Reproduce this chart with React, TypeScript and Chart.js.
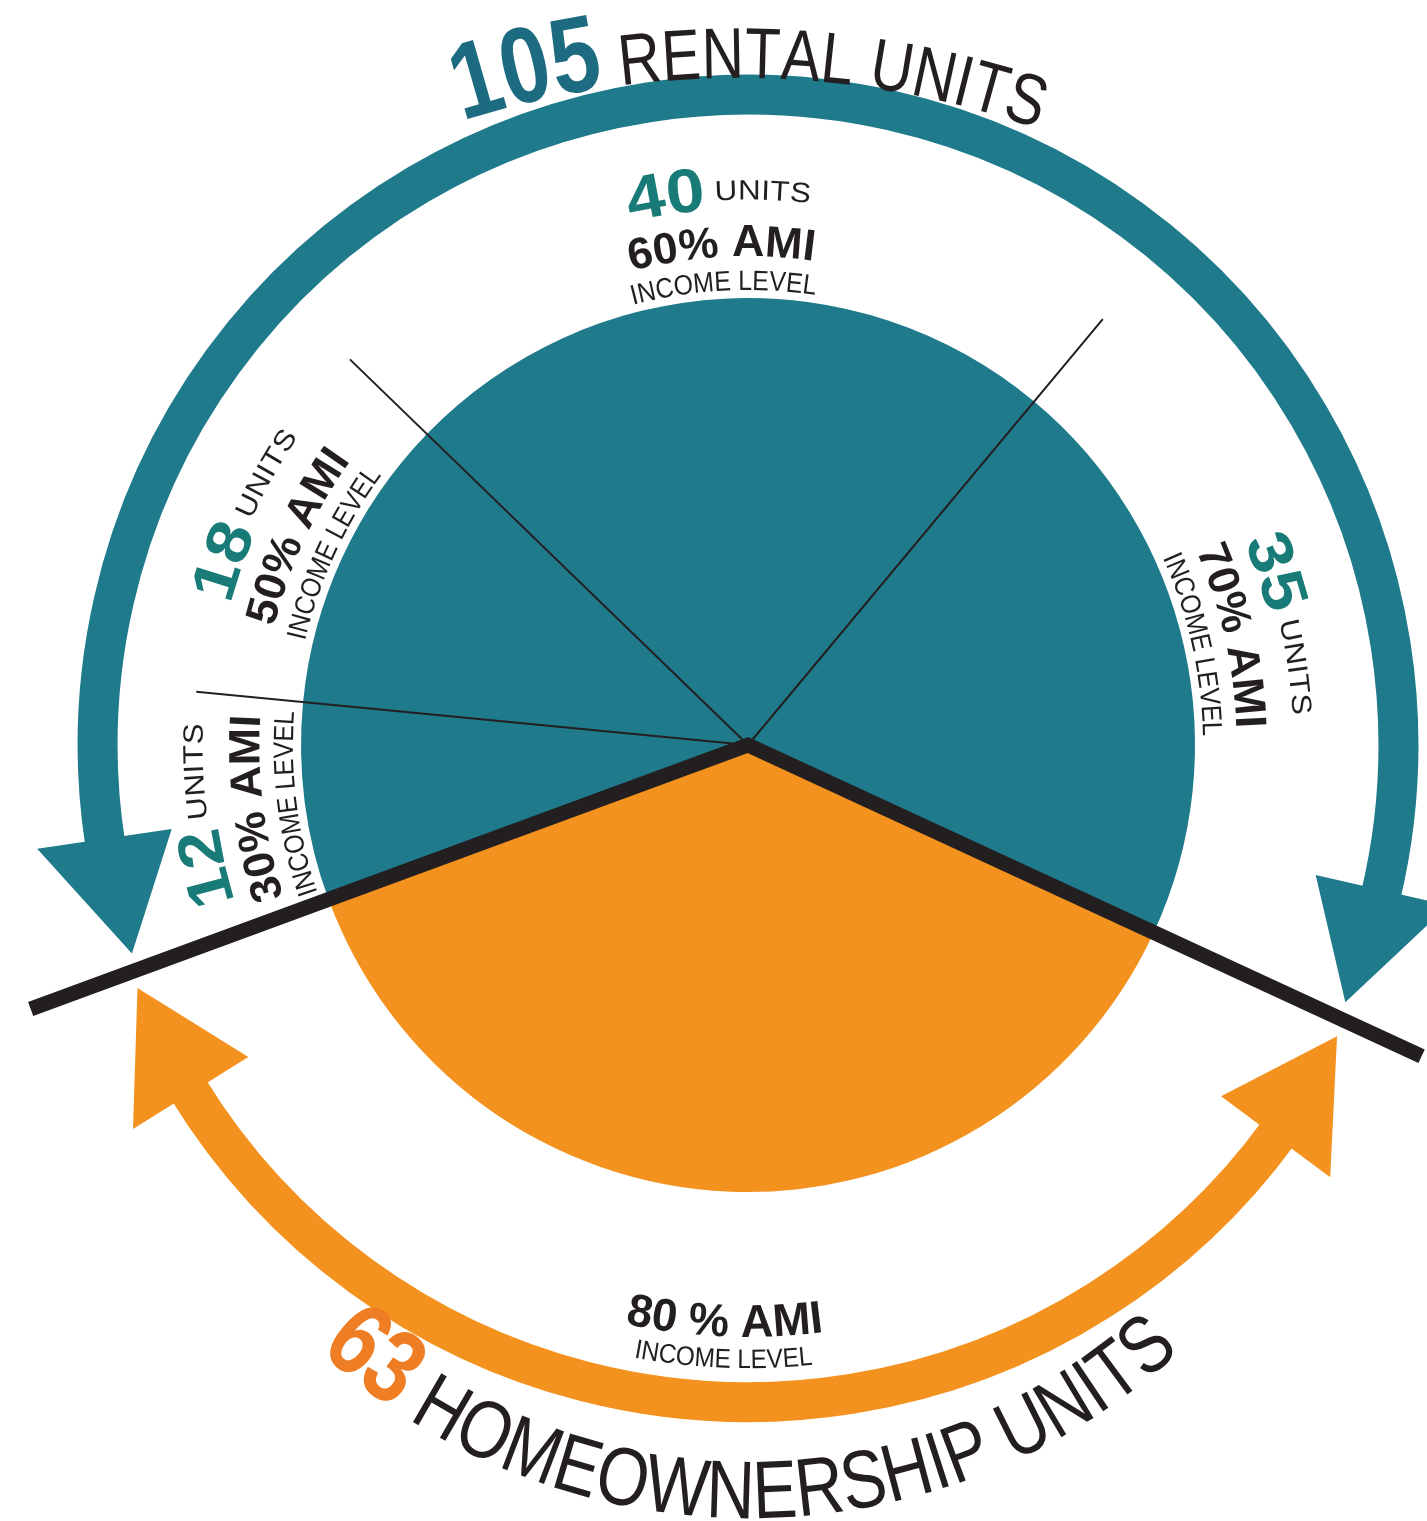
import React, { useEffect, useRef } from "react";
import { Chart, registerables } from "chart.js";
Chart.register(...registerables);

// ---------- data ----------
const categories = ["30% AMI", "50% AMI", "60% AMI", "70% AMI", "80 % AMI"];
const units = [12, 18, 40, 35, 63];
const tenure = ["Rental", "Rental", "Rental", "Rental", "Homeownership"];
const unitWord = "UNITS";
const incomeLabel = "INCOME LEVEL";
const rentalTitle = "RENTAL UNITS";
const homeTitle = "HOMEOWNERSHIP UNITS";

const rentalTotal = units.filter((_, i) => tenure[i] === "Rental").reduce((a, b) => a + b, 0);
const homeTotal = units.filter((_, i) => tenure[i] === "Homeownership").reduce((a, b) => a + b, 0);

// ---------- style ----------
const TEAL = "#1F7A8C";
const ORANGE = "#F4921F";
const DARK = "#231F20";
const LABEL_TEAL = "#187B78";
const TITLE_TEAL = "#1C6B80";
const TITLE_ORANGE = "#EE7D23";
const F = "'Liberation Sans', Arial, sans-serif";
const sliceColors = tenure.map((t) => (t === "Rental" ? TEAL : ORANGE));
const TAU = Math.PI * 2;
const deg = (d: number) => (d * Math.PI) / 180;

type Seg = { text: string; font: string; color: string; lift?: number };

// draw text along a circle. angles are "clock" angles (0 = up, clockwise)
function arcText(
  ctx: CanvasRenderingContext2D,
  cx: number,
  cy: number,
  r: number,
  mid: number,
  segs: Seg[],
  target: number,
  inward: boolean
) {
  ctx.save();
  ctx.textAlign = "center";
  ctx.textBaseline = "alphabetic";
  const chars: { ch: string; w: number; x: number; font: string; color: string; lift: number }[] = [];
  let W = 0;
  for (const s of segs) {
    ctx.font = s.font;
    for (const ch of s.text) {
      const w = ctx.measureText(ch).width;
      chars.push({ ch, w, x: W, font: s.font, color: s.color, lift: s.lift || 0 });
      W += w;
    }
  }
  const sx = target ? target / W : 1;
  const span = (W * sx) / r;
  for (const c of chars) {
    const off = ((c.x + c.w / 2) * sx) / r;
    const a = inward ? mid + span / 2 - off : mid - span / 2 + off;
    const px = cx + r * Math.sin(a);
    const py = cy - r * Math.cos(a);
    ctx.save();
    ctx.translate(px, py);
    ctx.rotate(inward ? a - Math.PI : a);
    ctx.scale(sx, 1);
    ctx.font = c.font;
    ctx.fillStyle = c.color;
    ctx.fillText(c.ch, 0, -c.lift);
    ctx.restore();
  }
  ctx.restore();
}

function arcArrow(
  ctx: CanvasRenderingContext2D,
  cx: number,
  cy: number,
  r: number,
  a0: number,
  a1: number,
  color: string
) {
  const width = 40;
  const headLen = 118;
  const headHalf = 68;
  const dh = headLen / r;
  ctx.save();
  ctx.strokeStyle = color;
  ctx.fillStyle = color;
  ctx.lineWidth = width;
  ctx.lineCap = "butt";
  ctx.beginPath();
  ctx.arc(cx, cy, r, a0 + dh - 0.01, a1 - dh + 0.01);
  ctx.stroke();
  const head = (tip: number, base: number) => {
    ctx.beginPath();
    ctx.moveTo(cx + r * Math.cos(tip), cy + r * Math.sin(tip));
    ctx.lineTo(cx + (r + headHalf) * Math.cos(base), cy + (r + headHalf) * Math.sin(base));
    ctx.lineTo(cx + (r - headHalf) * Math.cos(base), cy + (r - headHalf) * Math.sin(base));
    ctx.closePath();
    ctx.fill();
  };
  head(a0, a0 + dh);
  head(a1, a1 - dh);
  ctx.restore();
}

const overlay = {
  id: "overlay",
  afterDatasetsDraw(chart: any) {
    const ctx: CanvasRenderingContext2D = chart.ctx;
    const arcs = chart.getDatasetMeta(0).data;
    const p = arcs[0].getProps(["x", "y", "outerRadius"], true);
    const cx = p.x, cy = p.y, R = p.outerRadius;
    const homeIdx = tenure.indexOf("Homeownership");
    const home = arcs[homeIdx].getProps(["startAngle", "endAngle"], true);
    const norm = (a: number) => ((a % TAU) + TAU) % TAU;
    const rightB = norm(home.startAngle);
    const leftB = norm(home.endAngle);

    // thin dividers between rental slices
    ctx.save();
    ctx.strokeStyle = DARK;
    ctx.lineWidth = 2;
    for (let i = 1; i < units.length; i++) {
      if (tenure[i] !== "Rental") continue;
      const a = arcs[i].getProps(["startAngle"], true).startAngle;
      ctx.beginPath();
      ctx.moveTo(cx, cy);
      ctx.lineTo(cx + R * 1.24 * Math.cos(a), cy + R * 1.24 * Math.sin(a));
      ctx.stroke();
    }
    // thick dividers rental / homeownership
    ctx.lineWidth = 15;
    ctx.lineCap = "butt";
    ctx.lineJoin = "miter";
    ctx.beginPath();
    ctx.moveTo(cx + R * 1.66 * Math.cos(rightB), cy + R * 1.66 * Math.sin(rightB));
    ctx.lineTo(cx, cy);
    ctx.lineTo(cx + R * 1.71 * Math.cos(leftB), cy + R * 1.71 * Math.sin(leftB));
    ctx.stroke();
    ctx.restore();

    // arrows
    const d = deg(1.5);
    arcArrow(ctx, cx, cy, R * 1.455, leftB + d, rightB + TAU - d, TEAL);
    arcArrow(ctx, cx, cy, R * 1.47, rightB + d, leftB - d, ORANGE);

    // rental slice labels
    for (let i = 0; i < units.length; i++) {
      if (tenure[i] !== "Rental") continue;
      const a = arcs[i].getProps(["startAngle", "endAngle"], true);
      const th = (a.startAngle + a.endAngle) / 2 + Math.PI / 2;
      arcText(ctx, cx, cy, R * 1.2, th, [
        { text: String(units[i]), font: `bold 62px ${F}`, color: LABEL_TEAL },
        { text: " " + unitWord, font: `28px ${F}`, color: DARK, lift: 9 },
      ], 180, false);
      arcText(ctx, cx, cy, R * 1.093, th, [{ text: categories[i], font: `bold 44px ${F}`, color: DARK }], 184, false);
      arcText(ctx, cx, cy, R * 1.018, th, [{ text: incomeLabel, font: `28px ${F}`, color: DARK }], 184, false);
    }

    // homeownership label
    const ha = arcs[homeIdx].getProps(["startAngle", "endAngle"], true);
    const hth = (ha.startAngle + ha.endAngle) / 2 + Math.PI / 2;
    arcText(ctx, cx, cy, R * 1.324, hth, [{ text: categories[homeIdx], font: `bold 46px ${F}`, color: DARK }], 200, true);
    arcText(ctx, cx, cy, R * 1.394, hth, [{ text: incomeLabel, font: `27px ${F}`, color: DARK }], 180, true);

    // curved titles
    {
      const r = 912, a0 = deg(-17.6), a1 = deg(19.2);
      arcText(ctx, cx - 10, cy + 245, r, (a0 + a1) / 2, [
        { text: String(rentalTotal), font: `bold 108px ${F}`, color: TITLE_TEAL },
        { text: " " + rentalTitle, font: `72px ${F}`, color: DARK },
      ], (a1 - a0) * r, false);
    }
    {
      const r = 638, a0 = deg(222.5), a1 = deg(137.6);
      arcText(ctx, cx + 2, cy + 135, r, (a0 + a1) / 2, [
        { text: String(homeTotal), font: `bold 104px ${F}`, color: TITLE_ORANGE },
        { text: " " + homeTitle, font: `82px ${F}`, color: DARK },
      ], (a0 - a1) * r, true);
    }
  },
};

export default function App() {
  const ref = useRef<HTMLCanvasElement | null>(null);
  useEffect(() => {
    if (!ref.current) return;
    const chart = new Chart(ref.current, {
      type: "pie",
      data: {
        labels: categories,
        datasets: [
          {
            data: units,
            backgroundColor: sliceColors,
            borderWidth: 0,
            hoverOffset: 0,
            offset: 0,
          },
        ],
      },
      options: {
        responsive: false,
        animation: false,
        devicePixelRatio: 1,
        rotation: 249.8,
        layout: { padding: { left: 301, right: 232, top: 298, bottom: 329 } },
        plugins: { legend: { display: false }, tooltip: { enabled: false } },
        events: [],
      },
      plugins: [overlay],
    } as any);
    return () => chart.destroy();
  }, []);
  return (
    <div style={{ position: "absolute", left: 0, top: 0, width: 1427, height: 1521, background: "#fff" }}>
      <canvas ref={ref} width={1427} height={1521} style={{ display: "block" }} />
    </div>
  );
}
